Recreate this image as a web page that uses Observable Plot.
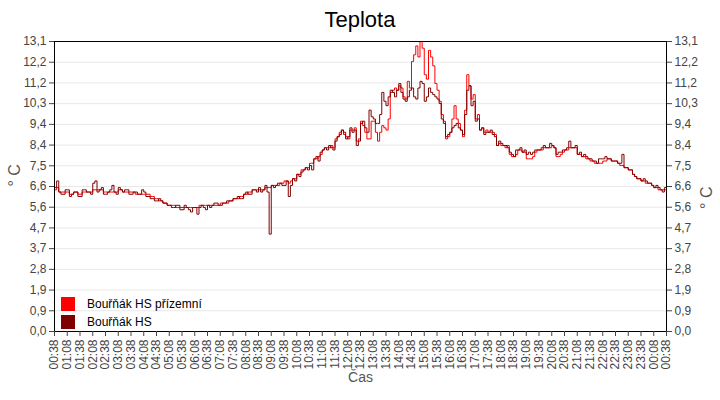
<!DOCTYPE html>
<html>
<head>
<meta charset="utf-8">
<script src="https://cdn.jsdelivr.net/npm/d3@7"></script>
<script src="https://cdn.jsdelivr.net/npm/@observablehq/plot@0.6"></script>
<style>
  html, body { margin: 0; padding: 0; background: #fff; }
  body { width: 720px; height: 400px; position: relative; overflow: hidden; font-family: "Liberation Sans", Arial, sans-serif; }
  #title { height: 34px; line-height: 40px; text-align: center; font-size: 22px; color: #000; }
  #legend { position: absolute; left: 61px; top: 295px; font-size: 12px; color: #000; }
  .li { height: 18px; display: flex; align-items: center; }
  .sw { width: 14px; height: 14px; margin-right: 12px; }
</style>
</head>
<body>
<div id="title">Teplota</div>
<div id="chart"></div>
<div id="legend"></div>
<script>
// Series metadata
const seriesNames = ["Bouřňák HS přízemní", "Bouřňák HS"];
const seriesColors = ["#ff0000", "#800000"];

// Time axis: start 00:38, one value every 5 minutes, 24 h (one row = one hour)
const startTime = Date.UTC(2024, 0, 1, 0, 38);
const stepMinutes = 5;

// Bouřňák HS přízemní (red)
const redValues = [
  6.4,6.5,6.3,6.3,6.3,6.3,6.3,6.2,6.2,6.3,6.3,6.2,
  6.2,6.3,6.3,6.3,6.3,6.3,6.4,6.4,6.4,6.4,6.4,6.3,
  6.3,6.3,6.3,6.3,6.3,6.3,6.4,6.4,6.3,6.3,6.3,6.3,
  6.3,6.3,6.2,6.2,6.2,6.2,6.2,6.2,6.2,6.1,6.1,6.0,
  6.0,5.9,5.9,5.8,5.8,5.7,5.7,5.7,5.7,5.6,5.6,5.6,
  5.6,5.6,5.6,5.6,5.6,5.6,5.6,5.6,5.7,5.7,5.7,5.7,
  5.7,5.7,5.7,5.7,5.7,5.7,5.8,5.8,5.8,5.8,5.9,5.9,
  6.0,6.0,6.0,6.1,6.1,6.2,6.2,6.3,6.3,6.4,6.4,6.4,
  6.4,6.4,6.4,6.5,6.5,6.5,6.6,6.6,6.6,6.6,6.7,6.7,
  6.8,6.8,6.7,6.8,6.9,6.9,7.1,7.1,7.3,7.3,7.4,7.4,
  7.6,7.6,7.8,7.8,7.9,8.0,8.2,8.3,8.3,8.3,8.4,8.3,
  8.7,8.8,9.0,9.1,8.9,8.8,8.7,9.1,9.1,9.2,8.6,8.7,
  9.5,9.3,9.0,8.7,8.7,9.5,9.5,9.0,8.6,9.0,9.3,9.2,
  9.1,9.6,10.8,10.9,11.0,10.9,11.1,11.0,10.6,10.5,11.3,11.0,
  12.2,12.5,12.9,12.4,13.1,12.8,11.6,11.4,12.7,12.4,12.0,11.2,
  10.9,10.4,9.8,9.5,8.7,8.8,9.0,9.6,10.2,9.6,9.4,9.1,
  8.8,10.0,11.6,11.1,10.5,10.7,9.6,9.8,9.1,9.2,9.0,9.1,
  9.0,9.0,9.0,8.9,8.4,8.5,8.4,8.4,8.3,8.4,8.0,7.9,
  7.9,8.0,8.2,8.2,8.1,8.1,7.8,7.8,7.8,7.9,8.1,8.2,
  8.2,8.2,8.3,8.3,8.3,8.3,8.4,8.3,7.9,7.9,8.0,8.1,
  8.2,8.2,8.3,8.3,8.3,8.3,8.0,8.0,7.9,7.9,7.8,7.8,
  7.7,7.7,7.6,7.6,7.6,7.6,7.7,7.7,7.8,7.8,7.7,7.7,
  7.7,7.6,7.5,7.5,7.4,7.4,7.3,7.3,7.1,7.0,6.9,6.9,
  6.8,6.8,6.7,6.7,6.7,6.6,6.5,6.5,6.4,6.4,6.4,6.4,
  6.2
];

// Bouřňák HS (dark red)
const darkValues = [
  6.5,6.8,6.3,6.2,6.2,6.4,6.4,6.1,6.2,6.3,6.3,6.1,
  6.1,6.4,6.4,6.3,6.3,6.2,6.7,6.8,6.3,6.4,6.5,6.2,
  6.2,6.3,6.4,6.6,6.3,6.2,6.5,6.4,6.3,6.4,6.4,6.2,
  6.2,6.3,6.3,6.2,6.2,6.4,6.3,6.1,6.1,6.0,6.0,5.9,
  5.9,6.0,5.9,5.8,5.8,5.7,5.7,5.6,5.6,5.7,5.7,5.5,
  5.5,5.7,5.6,5.5,5.4,5.6,5.6,5.3,5.6,5.7,5.6,5.5,
  5.7,5.6,5.7,5.8,5.8,5.7,5.7,5.8,5.8,5.9,5.9,5.9,
  6.0,6.0,6.1,6.0,6.0,6.2,6.3,6.2,6.2,6.4,6.4,6.3,
  6.5,6.3,6.4,6.6,6.3,4.4,6.6,6.5,6.6,6.7,6.7,6.6,
  6.6,6.8,6.1,6.6,6.9,6.8,7.1,7.0,7.2,7.3,7.4,7.3,
  7.5,7.3,7.8,7.9,7.7,8.1,8.2,8.3,8.2,8.4,8.3,8.2,
  8.6,8.8,8.9,9.1,9.0,8.7,8.8,9.2,9.0,9.1,8.4,8.6,
  9.4,9.5,9.2,9.0,10.0,9.7,9.6,9.4,9.4,9.8,10.8,10.4,
  10.2,10.6,10.9,10.8,10.6,10.9,11.2,10.8,10.5,10.4,10.6,10.9,
  11.0,10.6,10.5,11.0,11.3,11.2,10.4,10.6,11.0,10.8,10.7,10.6,
  10.5,10.3,9.6,9.4,8.8,8.9,9.0,9.2,9.3,9.4,9.2,9.1,
  8.9,9.8,10.9,11.1,10.2,10.4,9.5,9.6,9.1,9.2,8.9,9.0,
  9.0,9.1,8.9,8.8,8.4,8.6,8.5,8.4,8.4,8.3,8.1,8.0,
  7.9,8.2,8.2,8.3,8.1,8.2,8.0,8.1,8.0,8.1,8.2,8.2,
  8.2,8.3,8.4,8.3,8.3,8.5,8.4,8.3,8.0,8.1,8.1,8.2,
  8.2,8.3,8.6,8.3,8.3,8.4,8.0,8.1,7.9,8.0,7.9,7.8,
  7.8,7.7,7.7,7.6,7.8,7.8,7.8,7.9,7.8,7.8,7.7,7.7,
  7.7,7.6,7.6,8.0,7.4,7.4,7.3,7.3,7.1,7.0,6.9,6.9,
  6.8,6.9,6.8,6.7,6.7,6.6,6.5,6.6,6.5,6.4,6.3,6.5,
  6.3
];

// Axis ticks
const yMax = 13.1;
const yTicks = d3.range(15).map(k => yMax * k / 14);
const xTicks = d3.range(49).map(k => new Date(startTime + k * 30 * 60000));
const fmtY = v => (Math.round(v * 10 + 1e-6) / 10).toFixed(1).replace(".", ",");
const fmtX = d3.utcFormat("%H:%M");

const toRows = (vals, name) => vals.map((v, i) => ({
  t: new Date(startTime + i * stepMinutes * 60000), v, name
}));
const redRows = toRows(redValues, seriesNames[0]);
const darkRows = toRows(darkValues, seriesNames[1]);

const endTime = new Date(startTime + 24 * 60 * 60000);

const chart = Plot.plot({
  width: 720,
  height: 366,
  marginLeft: 54,
  marginRight: 54,
  marginTop: 7,
  marginBottom: 69,
  style: { fontFamily: "Liberation Sans, Arial, sans-serif", fontSize: "12px", color: "#333", background: "#fff" },
  x: { type: "utc", domain: [new Date(startTime), endTime] },
  y: { domain: [0, yMax] },
  marks: [
    Plot.gridY(yTicks, { stroke: "#e8e8e8", strokeOpacity: 1 }),
    Plot.line(redRows, { x: "t", y: "v", stroke: seriesColors[0], strokeWidth: 1, curve: "step-after" }),
    Plot.line(darkRows, { x: "t", y: "v", stroke: seriesColors[1], strokeWidth: 1, curve: "step-after" }),
    Plot.frame({ stroke: "#000" }),
    Plot.axisX({ ticks: xTicks, tickFormat: fmtX, tickRotate: -90, tickSize: 5, tickPadding: 3,
      label: null, fontSize: 12, color: "#444" }),
    Plot.axisY({ anchor: "left", ticks: yTicks, tickFormat: fmtY, tickSize: 5, tickPadding: 3,
      label: null, color: "#444" }),
    Plot.axisY({ anchor: "right", ticks: yTicks, tickFormat: fmtY, tickSize: 5, tickPadding: 3,
      label: null, color: "#444" }),
    // axis titles
    Plot.text(["Čas"], { frameAnchor: "bottom", dy: 50, fontSize: 14, fill: "#555" }),
    Plot.text(["° C"], { frameAnchor: "left", dx: -40, rotate: -90, fontSize: 16, fill: "#555" }),
    Plot.text(["° C"], { frameAnchor: "right", dx: 40, rotate: -90, fontSize: 16, fill: "#555" })
  ]
});
document.getElementById("chart").appendChild(chart);

// Legend
const legend = document.getElementById("legend");
seriesNames.forEach((n, i) => {
  const row = document.createElement("div");
  row.className = "li";
  const sw = document.createElement("span");
  sw.className = "sw";
  sw.style.background = seriesColors[i];
  const tx = document.createElement("span");
  tx.textContent = n;
  row.appendChild(sw);
  row.appendChild(tx);
  legend.appendChild(row);
});
</script>
</body>
</html>
